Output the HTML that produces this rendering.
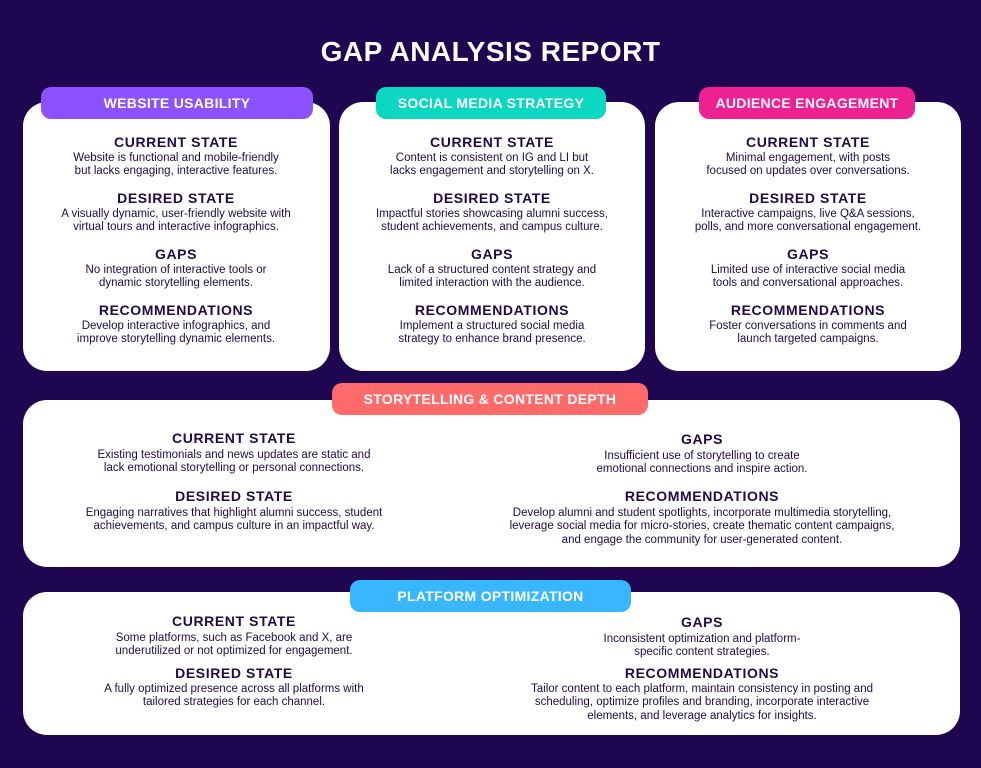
<!DOCTYPE html>
<html><head><meta charset="utf-8"><style>
*{margin:0;padding:0;box-sizing:border-box}
body{width:981px;height:768px;background:#1e0650;font-family:"Liberation Sans",sans-serif;position:relative;overflow:hidden;color:#1e0a4a}
.card{position:absolute;background:#fff;border-radius:24px}
.pill{position:absolute;border-radius:10px;color:#fff;font-weight:bold;font-size:14px;letter-spacing:.3px;display:flex;align-items:center;justify-content:center}
.h{position:absolute;transform:translateX(-50%);font-weight:bold;font-size:14px;letter-spacing:.6px;white-space:nowrap;line-height:16px}
.t{position:absolute;transform:translateX(-50%);font-size:11.5px;white-space:nowrap;line-height:13.3px;text-align:center}
</style></head><body>
<div style="position:absolute;left:0;width:981px;top:36px;text-align:center;color:#fff;font-weight:bold;font-size:28px;letter-spacing:.5px">GAP ANALYSIS REPORT</div>

<div class="card" style="left:23px;top:102px;width:307px;height:269px"></div>
<div class="card" style="left:339px;top:102px;width:306px;height:269px"></div>
<div class="card" style="left:655px;top:102px;width:306px;height:269px"></div>
<div class="card" style="left:23px;top:400px;width:937px;height:167px"></div>
<div class="card" style="left:23px;top:592px;width:937px;height:143px"></div>

<div class="pill" style="left:41px;top:87px;width:272px;height:32px;background:#8c52ff">WEBSITE USABILITY</div>
<div class="pill" style="left:376px;top:87px;width:230px;height:32px;background:#0cd7c0">SOCIAL MEDIA STRATEGY</div>
<div class="pill" style="left:699px;top:87px;width:216px;height:32px;background:#ee2192">AUDIENCE ENGAGEMENT</div>
<div class="pill" style="left:332px;top:383px;width:316px;height:32px;background:#ff6b6b">STORYTELLING &amp; CONTENT DEPTH</div>
<div class="pill" style="left:350px;top:580px;width:281px;height:32px;background:#38b6ff">PLATFORM OPTIMIZATION</div>

<!-- card 1 -->
<div class="h" style="left:176px;top:134px">CURRENT STATE</div>
<div class="t" style="left:176px;top:152px">Website is functional and mobile-friendly<br>but lacks engaging, interactive features.</div>
<div class="h" style="left:176px;top:190px">DESIRED STATE</div>
<div class="t" style="left:176px;top:208px">A visually dynamic, user-friendly website with<br>virtual tours and interactive infographics.</div>
<div class="h" style="left:176px;top:246px">GAPS</div>
<div class="t" style="left:176px;top:264px">No integration of interactive tools or<br>dynamic storytelling elements.</div>
<div class="h" style="left:176px;top:302px">RECOMMENDATIONS</div>
<div class="t" style="left:176px;top:320px">Develop interactive infographics, and<br>improve storytelling dynamic elements.</div>

<!-- card 2 -->
<div class="h" style="left:492px;top:134px">CURRENT STATE</div>
<div class="t" style="left:492px;top:152px">Content is consistent on IG and LI but<br>lacks engagement and storytelling on X.</div>
<div class="h" style="left:492px;top:190px">DESIRED STATE</div>
<div class="t" style="left:492px;top:208px">Impactful stories showcasing alumni success,<br>student achievements, and campus culture.</div>
<div class="h" style="left:492px;top:246px">GAPS</div>
<div class="t" style="left:492px;top:264px">Lack of a structured content strategy and<br>limited interaction with the audience.</div>
<div class="h" style="left:492px;top:302px">RECOMMENDATIONS</div>
<div class="t" style="left:492px;top:320px">Implement a structured social media<br>strategy to enhance brand presence.</div>

<!-- card 3 -->
<div class="h" style="left:808px;top:134px">CURRENT STATE</div>
<div class="t" style="left:808px;top:152px">Minimal engagement, with posts<br>focused on updates over conversations.</div>
<div class="h" style="left:808px;top:190px">DESIRED STATE</div>
<div class="t" style="left:808px;top:208px">Interactive campaigns, live Q&amp;A sessions,<br>polls, and more conversational engagement.</div>
<div class="h" style="left:808px;top:246px">GAPS</div>
<div class="t" style="left:808px;top:264px">Limited use of interactive social media<br>tools and conversational approaches.</div>
<div class="h" style="left:808px;top:302px">RECOMMENDATIONS</div>
<div class="t" style="left:808px;top:320px">Foster conversations in comments and<br>launch targeted campaigns.</div>

<!-- card 4 -->
<div class="h" style="left:234px;top:430px">CURRENT STATE</div>
<div class="t" style="left:234px;top:449px">Existing testimonials and news updates are static and<br>lack emotional storytelling or personal connections.</div>
<div class="h" style="left:234px;top:488px">DESIRED STATE</div>
<div class="t" style="left:234px;top:507px">Engaging narratives that highlight alumni success, student<br>achievements, and campus culture in an impactful way.</div>
<div class="h" style="left:702px;top:431px">GAPS</div>
<div class="t" style="left:702px;top:450px">Insufficient use of storytelling to create<br>emotional connections and inspire action.</div>
<div class="h" style="left:702px;top:488px">RECOMMENDATIONS</div>
<div class="t" style="left:702px;top:507px">Develop alumni and student spotlights, incorporate multimedia storytelling,<br>leverage social media for micro-stories, create thematic content campaigns,<br>and engage the community for user-generated content.</div>

<!-- card 5 -->
<div class="h" style="left:234px;top:613px">CURRENT STATE</div>
<div class="t" style="left:234px;top:632px">Some platforms, such as Facebook and X, are<br>underutilized or not optimized for engagement.</div>
<div class="h" style="left:234px;top:665px">DESIRED STATE</div>
<div class="t" style="left:234px;top:683px">A fully optimized presence across all platforms with<br>tailored strategies for each channel.</div>
<div class="h" style="left:702px;top:614px">GAPS</div>
<div class="t" style="left:702px;top:633px">Inconsistent optimization and platform-<br>specific content strategies.</div>
<div class="h" style="left:702px;top:665px">RECOMMENDATIONS</div>
<div class="t" style="left:702px;top:683px">Tailor content to each platform, maintain consistency in posting and<br>scheduling, optimize profiles and branding, incorporate interactive<br>elements, and leverage analytics for insights.</div>
</body></html>
